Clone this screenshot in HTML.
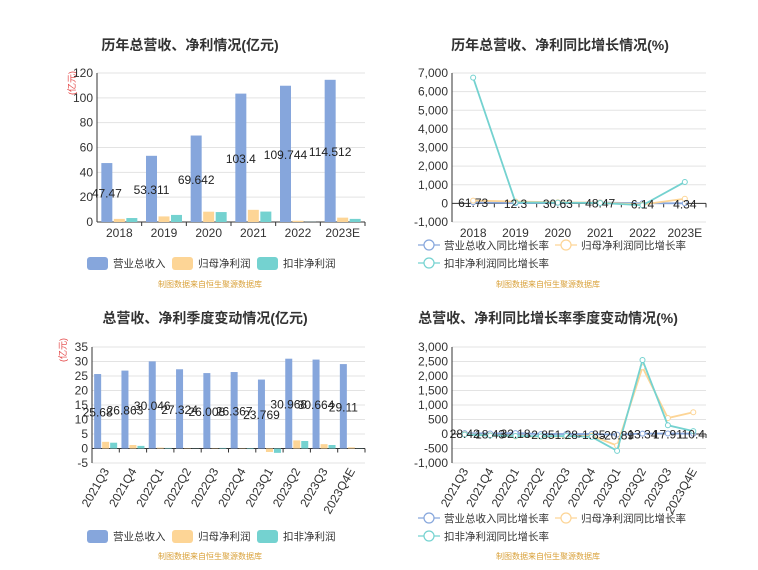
<!DOCTYPE html>
<html><head><meta charset="utf-8"><style>
body{margin:0;background:#fff}
svg{display:block;font-family:"Liberation Sans","Noto Sans CJK SC",sans-serif}
</style></head><body>
<svg id="s" width="758" height="570" viewBox="0 0 758 570"></svg>
<script>
// Chart 1 data
const years = ['2018','2019','2020','2021','2022','2023E'];
const revYear = [47.47,53.311,69.642,103.4,109.744,114.512];
const profitYear = [2.5,4.5,8.3,9.8,1.0,3.5];
const deductYear = [3.2,5.7,8.0,8.4,0.1,2.5];
const ticks1 = [0,20,40,60,80,100,120];
// Chart 2 data
const revGrowth = [61.73,12.3,30.63,48.47,6.14,4.34];
const profitGrowth = [150,100,60,40,-60,250];
const deductGrowth = [6750,50,40,20,-100,1150];
const ticks2 = [-1000,0,1000,2000,3000,4000,5000,6000,7000];
// Chart 3 data
const quarters = ['2021Q3','2021Q4','2022Q1','2022Q2','2022Q3','2022Q4','2023Q1','2023Q2','2023Q3','2023Q4E'];
const revQ = [25.68,26.863,30.046,27.324,26.008,26.367,23.769,30.968,30.664,29.11];
const profitQ = [2.3,1.2,0.3,0.1,0.1,0.1,-1.2,2.8,1.5,0.4];
const deductQ = [2.0,0.9,0.2,0.05,0.2,-0.2,-1.5,2.6,1.2,0.05];
const ticks3 = [-5,0,5,10,15,20,25,30,35];
// Chart 4 data
const revGrowthQ = [28.42,18.43,32.18,-2.85,1.28,-1.85,-20.89,13.34,17.91,10.4];
const profitGrowthQ = [-10,-40,-80,-90,-80,-60,-400,2300,550,750];
const deductGrowthQ = [-20,-50,-70,-80,-70,-100,-580,2550,300,100];
const ticks4 = [-1000,-500,0,500,1000,1500,2000,2500,3000];

const C_B='#86a6dc', C_O='#fdd596', C_T='#74d2d0';
const svg=document.getElementById('s');
const NS='http://www.w3.org/2000/svg';
function mk(tag,attrs,parent,text){const e=document.createElementNS(NS,tag);for(const k in attrs)e.setAttribute(k,attrs[k]);if(text!==undefined)e.textContent=text;(parent||svg).appendChild(e);return e;}
function fmt(v){return v.toLocaleString('en-US');}

function axes(g,o){
  const y=v=>o.bottom-(v-o.min)/(o.max-o.min)*(o.bottom-o.top);
  o.ticks.forEach(t=>{
    const l=mk('line',{x1:o.left,x2:o.right,y1:y(t),y2:y(t),stroke:t===0?'#333':'#e3e3e3','stroke-width':1},g);
    
    
    const tx=mk('text',{x:o.left-4,y:y(t)+4,'text-anchor':'end','font-size':12,fill:'#333'},g,fmt(t));
    
    
  });
  const ax=mk('line',{x1:o.left,x2:o.left,y1:o.top,y2:o.bottom,stroke:'#333'},g);
  
  
  const n=o.cats.length,cw=(o.right-o.left)/n,z=y(0);
  o.cats.forEach((c,i)=>{
    const tk=mk('line',{x1:o.left+cw*(i+1),x2:o.left+cw*(i+1),y1:z,y2:z+4,stroke:'#333'},g);
    
    
    const cx=o.left+cw*(i+0.5);
    let t;
    if(o.rot){t=mk('text',{x:cx+4,y:o.bottom+8,'text-anchor':'end','font-size':12,fill:'#333',transform:`rotate(-60 ${cx+4} ${o.bottom+8})`},g,c);}
    else t=mk('text',{x:cx,y:o.bottom+15,'text-anchor':'middle','font-size':12,fill:'#333'},g,c);
    
    
  });
  return {y,cw};
}
function title(t,x,yy){const e=mk('text',{x:x,y:yy,'text-anchor':'middle','font-size':14,'font-weight':'bold',fill:'#333'},svg,t);}
function source(x,yy){const e=mk('text',{x:x,y:yy,'text-anchor':'middle','font-size':8,fill:'#d9a13a'},svg,'制图数据来自恒生聚源数据库');}
function barLegend(x,yy){
  [['营业总收入',C_B],['归母净利润',C_O],['扣非净利润',C_T]].forEach((d,i)=>{
    const g=mk('g',{},svg);
    
    
    const xx=x+i*85;
    mk('rect',{x:xx,y:yy-6,width:21,height:13,rx:3,fill:d[1]},g);
    mk('text',{x:xx+26,y:yy+4,'font-size':10.5,fill:'#333'},g,d[0]);
  });
}
function lineLegend(x,yy){
  [['营业总收入同比增长率',C_B,0,0],['归母净利润同比增长率',C_O,137,0],['扣非净利润同比增长率',C_T,0,18]].forEach(d=>{
    const g=mk('g',{},svg);
    
    
    const xx=x+d[2],y0=yy+d[3];
    mk('line',{x1:xx,x2:xx+22,y1:y0,y2:y0,stroke:d[1],'stroke-width':1.2},g);
    mk('circle',{cx:xx+11,cy:y0,r:5,fill:'#fff',stroke:d[1],'stroke-width':1.2},g);
    mk('text',{x:xx+26,y:y0+4,'font-size':10.5,fill:'#333'},g,d[0]);
  });
}
function unit(x,yy,t){const e=mk('text',{x:x,y:yy,'font-size':9,fill:'#e34040',transform:`rotate(-90 ${x} ${yy})`},svg,t);}

function barChart(o,series,labels,name){
  const g=mk('g',{},svg);
  
  
  const {y,cw}=axes(g,o);
  const bw=o.bw,sp=o.sp;
  series.forEach((s,si)=>{
    s.vals.forEach((v,i)=>{
      const cx=o.left+cw*(i+0.5)+(si-1)*sp;
      const y0=y(0),y1=y(v);
      const r=mk('rect',{x:cx-bw/2,y:Math.min(y0,y1),width:bw,height:Math.abs(y1-y0),fill:s.color},g);
      
      
    });
  });
  labels.forEach((v,i)=>{
    const cx=o.left+cw*(i+0.5)-sp;
    const t=mk('text',{x:cx,y:y(v/2)+5,'text-anchor':'middle','font-size':12,fill:'#222'},g,String(v));
    
    
  });
}
function lineChart(o,series,labels,name){
  const g=mk('g',{},svg);
  
  
  const {y,cw}=axes(g,o);
  series.forEach(s=>{
    const pts=s.vals.map((v,i)=>[o.left+cw*(i+0.5),y(v)]);
    const p=mk('polyline',{points:pts.map(p=>p.join(',')).join(' '),fill:'none',stroke:s.color,'stroke-width':1.8},g);
    
    
    pts.forEach(pt=>{
      const c=mk('circle',{cx:pt[0],cy:pt[1],r:2.5,fill:'#fff',stroke:s.color,'stroke-width':1},g);
      
      
    });
  });
  labels.forEach((v,i)=>{
    const t=mk('text',{x:o.left+cw*(i+0.5),y:y(v)+5,'text-anchor':'middle','font-size':12,fill:'#222'},g,String(v));
    
    
  });
}

// Chart 1
title('历年总营收、净利情况(亿元)',190,50);
unit(75,95,'(亿元)');
barChart({left:97,right:365,top:73,bottom:222,min:0,max:120,ticks:ticks1,cats:years,bw:11,sp:12.5},
 [{key:'revenue',vals:revYear,color:C_B},{key:'profit',vals:profitYear,color:C_O},{key:'deduct',vals:deductYear,color:C_T}],revYear,'annual-bar-chart');
barLegend(87,263);
source(210,287);

// Chart 2
title('历年总营收、净利同比增长情况(%)',560,50);
lineChart({left:452,right:706,top:73,bottom:222,min:-1000,max:7000,ticks:ticks2,cats:years},
 [{key:'revenue-growth',vals:revGrowth,color:C_B},{key:'profit-growth',vals:profitGrowth,color:C_O},{key:'deduct-growth',vals:deductGrowth,color:C_T}],revGrowth,'annual-growth-chart');
lineLegend(418,245);
source(548,287);

// Chart 3
title('总营收、净利季度变动情况(亿元)',205,323);
unit(66,362,'(亿元)');
barChart({left:92,right:365,top:347,bottom:463,min:-5,max:35,ticks:ticks3,cats:quarters,bw:7,sp:8,rot:true},
 [{key:'revenue',vals:revQ,color:C_B},{key:'profit',vals:profitQ,color:C_O},{key:'deduct',vals:deductQ,color:C_T}],revQ,'quarterly-bar-chart');
barLegend(87,536);
source(210,559);

// Chart 4
title('总营收、净利同比增长率季度变动情况(%)',548,323);
lineChart({left:452,right:706,top:347,bottom:463,min:-1000,max:3000,ticks:ticks4,cats:quarters,rot:true},
 [{key:'revenue-growth',vals:revGrowthQ,color:C_B},{key:'profit-growth',vals:profitGrowthQ,color:C_O},{key:'deduct-growth',vals:deductGrowthQ,color:C_T}],revGrowthQ,'quarterly-growth-chart');
lineLegend(418,518);
source(548,559);
</script>
</body></html>
